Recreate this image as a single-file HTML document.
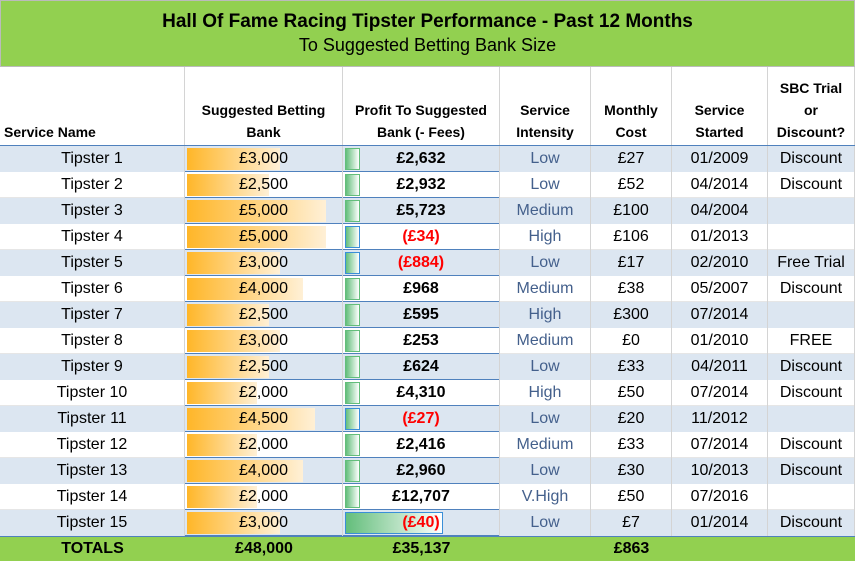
<!DOCTYPE html>
<html><head><meta charset="utf-8">
<style>
body{margin:0;width:855px;height:561px;overflow:hidden;background:#fff;font-family:"Liberation Sans",sans-serif;}
#root{position:relative;width:855px;height:561px;}
.c{position:absolute;display:flex;align-items:center;justify-content:center;box-sizing:border-box;white-space:nowrap;}
</style></head>
<body>
<div id="root">
  <div class="c" style="left:0;top:0;width:855px;height:67px;background:#92D050;flex-direction:column;border:1px solid #bbb;">
    <div style="font-weight:bold;font-size:19px;color:#000;">Hall Of Fame Racing Tipster Performance - Past 12 Months</div>
    <div style="font-size:18px;color:#000;margin-top:2px;">To Suggested Betting Bank Size</div>
  </div>
</div>
<script>
const names=["Tipster 1","Tipster 2","Tipster 3","Tipster 4","Tipster 5","Tipster 6","Tipster 7","Tipster 8","Tipster 9","Tipster 10","Tipster 11","Tipster 12","Tipster 13","Tipster 14","Tipster 15"];
const banks=[3000,2500,5000,5000,3000,4000,2500,3000,2500,2000,4500,2000,4000,2000,3000];
const profits=[2632,2932,5723,-34,-884,968,595,253,624,4310,-27,2416,2960,12707,-40];
const intensity=["Low","Low","Medium","High","Low","Medium","High","Medium","Low","High","Low","Medium","Low","V.High","Low"];
const costs=[27,52,100,106,17,38,300,0,33,50,20,33,30,50,7];
const started=["01/2009","04/2014","04/2004","01/2013","02/2010","05/2007","07/2014","01/2010","04/2011","07/2014","11/2012","07/2014","10/2013","07/2016","01/2014"];
const trial=["Discount","Discount","","","Free Trial","Discount","","FREE","Discount","Discount","","Discount","Discount","","Discount"];
const totals=["TOTALS","£48,000","£35,137","","£863","",""];
const headers=["Service Name","Suggested Betting<br>Bank","Profit To Suggested<br>Bank (- Fees)","Service<br>Intensity","Monthly<br>Cost","Service<br>Started","SBC Trial<br>or<br>Discount?"];

const cols=[0,185,343,500,591,672,768,855];
const top0=146,rowH=26;
const root=document.getElementById('root');
function fmt(v){const s="£"+Math.abs(v).toLocaleString('en-GB');return v<0?"("+s+")":s;}
function box(x,y,w,h,css,html){const d=document.createElement('div');d.className='c';d.style.cssText=`left:${x}px;top:${y}px;width:${w}px;height:${h}px;`+css;if(html!==undefined)d.innerHTML=html;root.appendChild(d);return d;}

// headers
headers.forEach((h,i)=>{
  const d=box(cols[i],67,cols[i+1]-cols[i],78,`font-weight:bold;font-size:14px;text-align:center;line-height:22px;align-items:flex-end;padding-bottom:2px;border-right:1px solid #d4d4d4;`+(i==0?"justify-content:flex-start;padding-left:4px;":""),h);
  
  
});
const hl=box(0,145,855,1,"background:#4F81BD;");



const maxBank=5000;
names.forEach((n,r)=>{
  const y=top0+r*rowH;
  const bg=r%2==0?"#DCE6F1":"#fff";
  const rowBg=box(0,y,855,rowH,`background:${bg};border-bottom:1px solid ${r%2==0?'#DCE6F1':'#e6e6e6'};`);
  
  
  // bank bar
  const bw=24+115*banks[r]/maxBank;
  const bar=box(187,y+2,bw,rowH-4,"background:linear-gradient(to right,#FFB628,#FFF0D6);");
  
  
  // profit bar (fixed width; last row drawn wide as in reference)
  const gw=r==names.length-1?98:15;
  const gb=box(345,y+2,gw,rowH-4,"background:linear-gradient(to right,#63BE7B,#fff);border:1px solid "+(profits[r]<0?"#3A8FD8":"#63BE7B")+";");
  
  
  // row lines
  const ln=box(185,y+rowH-1,315,1,"background:#4F81BD;");
  
  
  const cells=[n,fmt(banks[r]),fmt(profits[r]),intensity[r],"£"+costs[r],started[r],trial[r]];
  const styles=["","", "font-weight:bold;"+(profits[r]<0?"color:#FF0000;":""),"color:#44608C;","","",""];
  cells.forEach((t,i)=>{
    const d=box(cols[i],y,cols[i+1]-cols[i],rowH,"font-size:16px;border-right:1px solid #d4d4d4;"+styles[i],t);
    
    
  });
});
const ty=top0+names.length*rowH;
const tb=box(0,ty,855,561-ty,"background:#92D050;border-top:1px solid #4F81BD;");


totals.forEach((t,i)=>{
  const d=box(cols[i],ty,cols[i+1]-cols[i],561-ty,"font-size:16px;font-weight:bold;",t);
  
  
});
</script>
</body></html>
